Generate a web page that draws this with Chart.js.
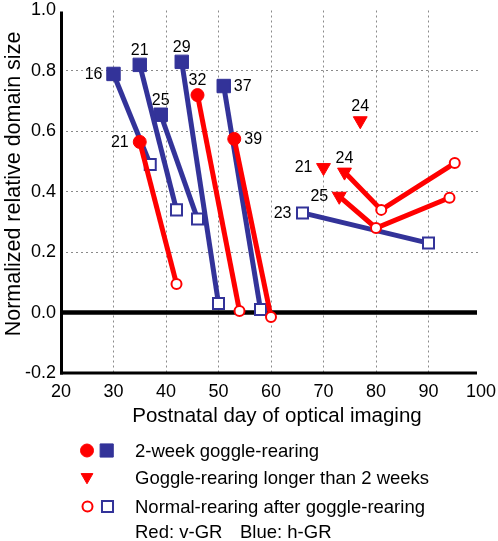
<!DOCTYPE html>
<html><head><meta charset="utf-8">
<script src="https://cdn.jsdelivr.net/npm/chart.js@4"></script>
<style>html,body{margin:0;padding:0;background:#fff}#wrap{width:498px;height:541px;position:relative}</style>
</head><body><div id="wrap"><canvas id="c" width="498" height="541"></canvas></div>
<script>
// ---------------- data ----------------
const xTicks = [20, 30, 40, 50, 60, 70, 80, 90, 100];
const yTicks = [-0.2, 0, 0.2, 0.4, 0.6, 0.8, 1.0];

// h-GR (blue): 2-week goggle-rearing -> normal-rearing afterwards
const hgrLabels = ['16', '21', '25', '29', '37'];
const hgrGRDay  = [30, 35, 39, 43, 51];
const hgrGRVal  = [0.79, 0.82, 0.655, 0.83, 0.75];
const hgrNRDay  = [37, 42, 46, 50, 58];
const hgrNRVal  = [0.49, 0.34, 0.31, 0.03, 0.01];
// h-GR normal-rearing only series
const hgrNR2Label = '23';
const hgrNR2Day = [66, 90];
const hgrNR2Val = [0.33, 0.23];

// v-GR (red): 2-week goggle-rearing -> normal-rearing afterwards
const vgrLabels = ['21', '32', '39'];
const vgrGRDay  = [35, 46, 53];
const vgrGRVal  = [0.565, 0.72, 0.575];
const vgrNRDay  = [42, 54, 60];
const vgrNRVal  = [0.095, 0.005, -0.015];

// v-GR goggle-rearing longer than 2 weeks (triangles) + follow-ups
const longLabels = ['24', '21', '24', '25'];
const longDay    = [77, 70, 74, 73];
const longVal    = [0.635, 0.48, 0.465, 0.385];
const longNRDay  = [[], [], [81, 95], [80, 94]];
const longNRVal  = [[], [], [0.34, 0.495], [0.28, 0.38]];

// label placement (style)
const hgrLabelPos  = ['left', 'above', 'above', 'above', 'right'];
const vgrLabelPos  = ['left', 'above', 'right'];
const longLabelPos = ['above', 'left', 'above', 'left'];
const hgrNR2LabelPos = 'left';

// ---------------- styles ----------------
const RED = '#ff0000';
const BLUE = '#333399';
const FONT = '"Liberation Sans", Arial, Helvetica, sans-serif';

const styles = {
  filledCircle: {pointStyle: 'circle', r: 6.5, bg: RED, bc: RED, bw: 1, rot: 0},
  openCircle:   {pointStyle: 'circle', r: 5, bg: '#fff', bc: RED, bw: 2, rot: 0},
  filledSquare: {pointStyle: 'rect', r: 9.5, bg: BLUE, bc: BLUE, bw: 1, rot: 0},
  openSquare:   {pointStyle: 'rect', r: 7.8, bg: '#fff', bc: BLUE, bw: 2, rot: 0},
  triangle:     {pointStyle: 'triangle', r: 8, bg: RED, bc: RED, bw: 1, rot: 180}
};

function makeDataset(xs, ys, kinds, color, label, pos) {
  const st = kinds.map(k => styles[k]);
  return {
    data: xs.map((x, i) => ({x: x, y: ys[i]})),
    showLine: xs.length > 1,
    borderColor: color,
    borderWidth: 5,
    fill: false,
    tension: 0,
    pointStyle: st.map(s => s.pointStyle),
    pointRadius: st.map(s => s.r),
    pointBackgroundColor: st.map(s => s.bg),
    pointBorderColor: st.map(s => s.bc),
    pointBorderWidth: st.map(s => s.bw),
    pointRotation: st.map(s => s.rot),
    ptLabel: label,
    ptLabelPos: pos
  };
}

const datasets = [];
// red first (drawn on top)
vgrLabels.forEach((lb, i) => {
  datasets.push(makeDataset([vgrGRDay[i], vgrNRDay[i]], [vgrGRVal[i], vgrNRVal[i]],
    ['filledCircle', 'openCircle'], RED, lb, vgrLabelPos[i]));
});
longLabels.forEach((lb, i) => {
  const xs = [longDay[i]].concat(longNRDay[i]);
  const ys = [longVal[i]].concat(longNRVal[i]);
  const kinds = ['triangle'].concat(longNRDay[i].map(() => 'openCircle'));
  datasets.push(makeDataset(xs, ys, kinds, RED, lb, longLabelPos[i]));
});
hgrLabels.forEach((lb, i) => {
  datasets.push(makeDataset([hgrGRDay[i], hgrNRDay[i]], [hgrGRVal[i], hgrNRVal[i]],
    ['filledSquare', 'openSquare'], BLUE, lb, hgrLabelPos[i]));
});
datasets.push(makeDataset(hgrNR2Day, hgrNR2Val, ['openSquare', 'openSquare'], BLUE, hgrNR2Label, hgrNR2LabelPos));

// ---------------- plugins ----------------
const axesPlugin = {
  id: 'axesPlugin',
  beforeDatasetsDraw(chart) {
    const {ctx, chartArea: a, scales: {y}} = chart;
    ctx.save();
    ctx.strokeStyle = '#000';
    ctx.lineCap = 'butt';
    // zero line
    const y0 = y.getPixelForValue(0);
    ctx.lineWidth = 4.5;
    ctx.beginPath(); ctx.moveTo(a.left, y0); ctx.lineTo(a.right - 4, y0); ctx.stroke();
    // left axis
    ctx.lineWidth = 3;
    ctx.beginPath(); ctx.moveTo(a.left + 0.5, a.top + 1); ctx.lineTo(a.left + 0.5, a.bottom + 1.5); ctx.stroke();
    // bottom axis
    ctx.beginPath(); ctx.moveTo(a.left - 1, a.bottom); ctx.lineTo(a.right - 4, a.bottom); ctx.stroke();
    ctx.restore();
  },
  afterDatasetsDraw(chart) {
    const ctx = chart.ctx;
    ctx.save();
    ctx.fillStyle = '#000';
    ctx.font = '16px ' + FONT;
    ctx.textBaseline = 'middle';
    chart.data.datasets.forEach((ds, i) => {
      if (!ds.ptLabel) return;
      const el = chart.getDatasetMeta(i).data[0];
      let x = el.x, yy = el.y;
      if (ds.ptLabelPos === 'left') { ctx.textAlign = 'right'; x -= 11; }
      else if (ds.ptLabelPos === 'right') { ctx.textAlign = 'left'; x += 10; }
      else { ctx.textAlign = 'center'; yy -= 14.5; }
      ctx.fillText(ds.ptLabel, x, yy + 0.5);
    });
    ctx.restore();
  },
  afterDraw(chart) {
    const ctx = chart.ctx;
    ctx.save();
    ctx.fillStyle = '#000';
    // axis titles
    ctx.font = '20.5px ' + FONT;
    ctx.textAlign = 'center';
    ctx.textBaseline = 'alphabetic';
    ctx.fillText('Postnatal day of optical imaging', 277, 421.5);
    ctx.save();
    ctx.translate(20, 184);
    ctx.rotate(-Math.PI / 2);
    ctx.font = '21.5px ' + FONT;
    ctx.fillText('Normalized relative domain size', 0, 0);
    ctx.restore();

    // legend
    ctx.font = '18.5px ' + FONT;
    ctx.textAlign = 'left';
    ctx.fillText('2-week goggle-rearing', 135, 456.7);
    ctx.fillText('Goggle-rearing longer than 2 weeks', 135, 484);
    ctx.fillText('Normal-rearing after goggle-rearing', 135, 513);
    ctx.fillText('Red: v-GR', 135, 538.3);
    ctx.fillText('Blue: h-GR', 240, 538.3);

    const H = Chart.helpers;
    function pt(style, x, y, r, bg, bc, bw, rot) {
      ctx.save();
      ctx.fillStyle = bg; ctx.strokeStyle = bc; ctx.lineWidth = bw;
      H.drawPoint(ctx, {pointStyle: style, radius: r, rotation: rot, borderWidth: bw}, x, y);
      ctx.restore();
    }
    pt('circle', 87, 450.5, 6.5, RED, RED, 1, 0);
    pt('rect', 106.7, 450.5, 9.3, BLUE, BLUE, 1, 0);
    pt('triangle', 87, 477, 6.8, RED, RED, 1, 180);
    pt('circle', 87.5, 506.5, 5, '#fff', RED, 2, 0);
    pt('rect', 107.5, 506.5, 7.8, '#fff', BLUE, 2, 0);
    ctx.restore();
  }
};

const hidden = 'rgba(0,0,0,0)';
new Chart(document.getElementById('c'), {
  type: 'scatter',
  data: {datasets: datasets},
  options: {
    animation: false,
    responsive: false,
    devicePixelRatio: 1,
    layout: {padding: {top: 8, right: 17, bottom: 0, left: 0}},
    plugins: {legend: {display: false}, tooltip: {enabled: false}},
    elements: {line: {tension: 0}},
    scales: {
      x: {
        type: 'linear', min: 20, max: 100,
        afterBuildTicks: s => { s.ticks = xTicks.map(v => ({value: v})); },
        afterFit: s => { s.height = 168; s.paddingLeft = 0; s.paddingRight = 0; s.paddingTop = 0; s.paddingBottom = 0; },
        grid: {
          color: c => (c.tick && (c.tick.value === 20 || c.tick.value === 100)) ? hidden : '#8a8a8a',
          lineWidth: 1, drawTicks: false
        },
        border: {display: false, dash: [2, 3]},
        ticks: {padding: 8, color: '#000', font: {family: FONT, size: 18}, maxRotation: 0, autoSkip: false,
                callback: v => String(v)}
      },
      y: {
        type: 'linear', min: -0.2, max: 1.0,
        afterBuildTicks: s => { s.ticks = yTicks.map(v => ({value: v})); },
        afterFit: s => { s.width = 61; s.paddingLeft = 0; s.paddingRight = 0; s.paddingTop = 0; s.paddingBottom = 0; },
        grid: {
          color: c => (c.tick && (Math.abs(c.tick.value) < 1e-9 || Math.abs(c.tick.value + 0.2) < 1e-9 || Math.abs(c.tick.value - 1) < 1e-9)) ? hidden : '#8a8a8a',
          lineWidth: 1, drawTicks: false
        },
        border: {display: false, dash: [2, 3]},
        ticks: {padding: 5, color: '#000', font: {family: FONT, size: 18}, autoSkip: false,
                callback: v => Number(v).toFixed(1)}
      }
    }
  },
  plugins: [axesPlugin]
});
</script></body></html>
